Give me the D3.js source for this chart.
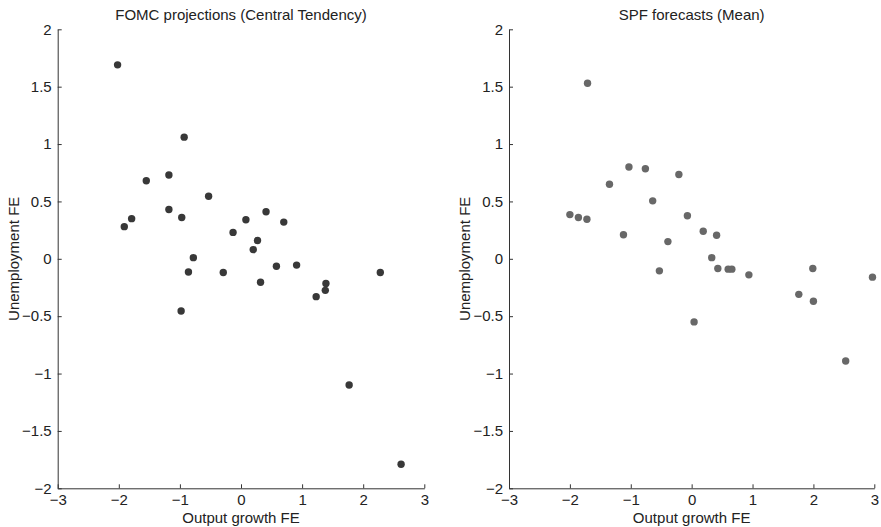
<!DOCTYPE html>
<html>
<head>
<meta charset="utf-8">
<script src="https://cdn.jsdelivr.net/npm/d3@7"></script>
<style>
  body { margin: 0; background: #fff; }
  svg { display: block; font-family: "Liberation Sans", Arial, sans-serif; }
  .axis text { font-size: 15px; fill: #222; }
  .axis path, .axis line { stroke: #333; }
</style>
</head>
<body>
<div id="chart"></div>
<script>
// Forecast errors: output growth FE (x) vs unemployment FE (y)
const fomcOutput = [-2.02, -0.93, -1.55, -1.18, -0.53, -1.18, -0.97, -1.79, -1.91, 0.41,
  0.08, 0.70, -0.13, 0.27, 0.20, -0.78, 0.58, 0.91, -0.86, -0.29,
  2.28, 0.32, 1.39, 1.38, 1.23, -0.98, 1.77, 2.62];
const fomcUnemp = [1.69, 1.06, 0.68, 0.73, 0.545, 0.43, 0.36, 0.35, 0.28, 0.41,
  0.34, 0.32, 0.23, 0.16, 0.08, 0.01, -0.065, -0.055, -0.115, -0.12,
  -0.12, -0.205, -0.215, -0.275, -0.33, -0.455, -1.1, -1.79];

const spfOutput = [-1.71, -1.03, -0.76, -0.21, -1.35, -0.64, -2.0, -1.86, -1.72, -0.07,
  -1.12, 0.19, 0.41, -0.39, 0.33, -0.53, 0.43, 0.60, 0.66, 0.94,
  1.99, 2.97, 1.76, 2.0, 0.04, 2.53];
const spfUnemp = [1.53, 0.80, 0.785, 0.735, 0.65, 0.505, 0.385, 0.36, 0.345, 0.375,
  0.21, 0.24, 0.205, 0.15, 0.01, -0.105, -0.085, -0.09, -0.09, -0.14,
  -0.085, -0.16, -0.31, -0.37, -0.55, -0.89];

const xTicks = [-3, -2, -1, 0, 1, 2, 3];
const yTicks = [-2, -1.5, -1, -0.5, 0, 0.5, 1, 1.5, 2];

const panels = [
  { title: "FOMC projections (Central Tendency)", x: fomcOutput, y: fomcUnemp, color: "#383838", left: 57.7, right: 424.3 },
  { title: "SPF forecasts (Mean)", x: spfOutput, y: spfUnemp, color: "#686868", left: 509, right: 874.3 }
];

const width = 881, height = 527;
const plotTop = 29.3, plotBottom = 488.3;

const svg = d3.select("#chart").append("svg")
  .attr("width", width)
  .attr("height", height);

const fmt = d3.format("~g");

panels.forEach(p => {
  const x = d3.scaleLinear().domain([-3, 3]).range([p.left, p.right]);
  const y = d3.scaleLinear().domain([-2, 2]).range([plotBottom, plotTop]);
  const cx = (p.left + p.right) / 2;

  // axes, ticks point inward like matlab
  svg.append("g")
    .attr("class", "axis")
    .attr("transform", `translate(0,${plotBottom})`)
    .call(d3.axisBottom(x).tickValues(xTicks).tickFormat(fmt).tickSizeInner(-4).tickSizeOuter(0).tickPadding(6));

  svg.append("g")
    .attr("class", "axis")
    .attr("transform", `translate(${p.left},0)`)
    .call(d3.axisLeft(y).tickValues(yTicks).tickFormat(fmt).tickSizeInner(-4).tickSizeOuter(0).tickPadding(6));

  // points
  svg.append("g")
    .selectAll("circle")
    .data(d3.zip(p.x, p.y))
    .join("circle")
    .attr("cx", d => x(d[0]))
    .attr("cy", d => y(d[1]))
    .attr("r", 3.7)
    .attr("fill", p.color);

  // title and axis labels
  svg.append("text")
    .attr("x", cx)
    .attr("y", 20)
    .attr("text-anchor", "middle")
    .style("font-size", "15px")
    .attr("fill", "#222")
    .text(p.title);

  svg.append("text")
    .attr("x", cx)
    .attr("y", 523)
    .attr("text-anchor", "middle")
    .style("font-size", "15px")
    .attr("fill", "#222")
    .text("Output growth FE");

  svg.append("text")
    .attr("transform", `translate(${p.left - 39},${(plotTop + plotBottom) / 2}) rotate(-90)`)
    .attr("text-anchor", "middle")
    .style("font-size", "15px")
    .attr("fill", "#222")
    .text("Unemployment FE");
});
</script>
</body>
</html>
